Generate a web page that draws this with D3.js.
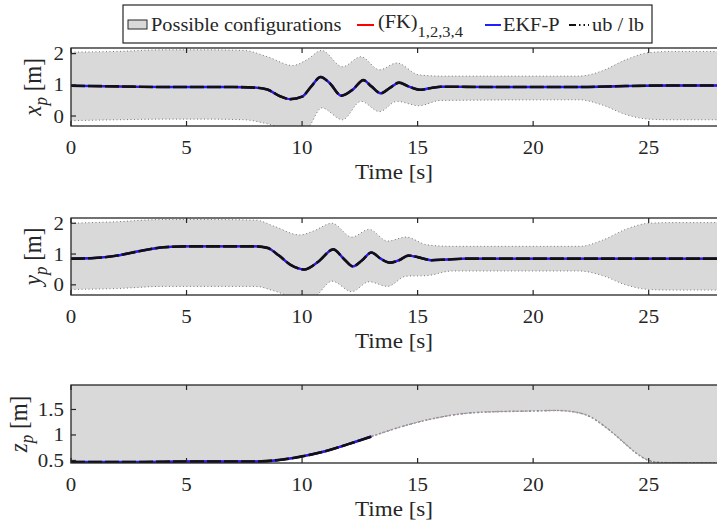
<!DOCTYPE html>
<html lang="en">
<head>
<meta charset="UTF-8">
<title>Position estimates</title>
<script src="https://d3js.org/d3.v7.min.js"></script>
<style>
  body { margin: 0; background: #fff; }
  svg { display: block; font-family: "Liberation Serif", "Times New Roman", serif; }
</style>
</head>
<body>
<div id="chart"></div>
<script>
// ---- data ----
const xTicks = [0, 5, 10, 15, 20, 25];

// x_p
const xpT   = [0, 2, 4, 7, 8, 8.5, 9, 9.5, 10, 10.4, 10.8, 11.2, 11.7, 12.2, 12.65, 13, 13.4, 13.8, 14.2, 14.6, 15.1, 15.6, 16, 18, 22, 24, 26, 28];
const xpMid = [0.97, 0.95, 0.93, 0.93, 0.91, 0.85, 0.65, 0.54, 0.62, 0.95, 1.25, 1.05, 0.65, 0.85, 1.15, 0.95, 0.73, 0.9, 1.07, 0.95, 0.84, 0.9, 0.94, 0.93, 0.93, 0.96, 0.98, 0.98];
const xpBandT = [0, 2, 4, 6, 7.5, 8.5, 9.6, 10.2, 10.85, 11.75, 12.55, 13.35, 14.1, 15.05, 16, 22, 23, 24, 25, 26, 28];
const xpUb    = [2.05, 2.07, 2.12, 2.12, 2.1, 1.9, 1.62, 1.8, 2.1, 1.58, 1.9, 1.48, 1.7, 1.32, 1.28, 1.28, 1.45, 1.8, 2.03, 2.07, 2.07];
const xpLb    = [-0.15, -0.12, -0.1, -0.1, -0.12, -0.25, -0.45, -0.4, 0.26, -0.12, 0.47, 0.14, 0.47, 0.33, 0.5, 0.52, 0.35, 0.05, -0.1, -0.12, -0.12];

// y_p
const ypT   = [0, 1, 2, 3, 4, 5, 8, 8.5, 9, 9.5, 10.1, 10.7, 11.35, 11.8, 12.2, 12.6, 13.0, 13.4, 13.8, 14.2, 14.6, 15.0, 15.6, 16.2, 17, 28];
const ypMid = [0.85, 0.87, 0.95, 1.1, 1.22, 1.25, 1.25, 1.2, 0.95, 0.65, 0.5, 0.75, 1.15, 0.85, 0.6, 0.8, 1.05, 0.85, 0.72, 0.8, 0.95, 0.9, 0.8, 0.82, 0.85, 0.85];
const ypBandT = [0, 2, 4, 6, 8, 8.8, 9.9, 10.5, 11.3, 12.15, 12.9, 13.7, 14.5, 15.4, 16.5, 22, 23, 24, 25, 26, 28];
const ypUb    = [2.0, 2.05, 2.12, 2.12, 2.1, 1.9, 1.62, 1.75, 2.0, 1.55, 1.8, 1.42, 1.55, 1.3, 1.25, 1.25, 1.45, 1.8, 2.0, 2.02, 2.02];
const ypLb    = [-0.15, -0.12, -0.05, -0.05, -0.05, -0.2, -0.45, -0.4, 0.12, -0.22, 0.1, -0.05, 0.28, 0.3, 0.45, 0.45, 0.3, 0.0, -0.15, -0.17, -0.17];

// z_p (trajectory sits on the lower bound, upper bound is off the top)
const zpT   = [0, 3, 5, 8, 9, 10, 11, 12, 13, 14, 15, 16, 17, 18, 20, 21, 21.8, 22.5, 23, 23.5, 24, 24.5, 25, 25.5, 26, 28];
const zpMid = [0.47, 0.47, 0.48, 0.48, 0.51, 0.58, 0.68, 0.82, 0.97, 1.12, 1.25, 1.35, 1.42, 1.45, 1.47, 1.48, 1.45, 1.35, 1.2, 1.02, 0.82, 0.63, 0.5, 0.46, 0.455, 0.455];
const zpUb = 2.6;
const zpSolidUntil = 13.2; // beyond this the estimate is hidden behind the bound

// ---- layout ----
const W = 717, H = 527;
const left = 71, right = 718;
const axisColor = "#262626";
const bandColor = "#d9d9d9";
const stretch = 1.1; // the original figure is a bit wider than tall

const svg = d3.select("#chart").append("svg")
  .attr("width", W).attr("height", H);

// text placed at (tx, ty), stretched sideways like the source
function label(g, tx, ty, size) {
  return g.append("text")
    .attr("transform", `translate(${tx},${ty}) scale(${stretch},1)`)
    .attr("font-size", size).attr("fill", axisColor);
}

const x = d3.scaleLinear().domain([0, 28]).range([left, right]);

const panels = [
  {id: "xp", top: 48, bottom: 126, domain: [-0.32, 2.18], ticks: [0, 1, 2], fmt: d3.format("d"), label: "x", labelX: 41,
   t: xpT, mid: xpMid, bt: xpBandT, ub: xpUb, lb: xpLb},
  {id: "yp", top: 218, bottom: 295, domain: [-0.33, 2.17], ticks: [0, 1, 2], fmt: d3.format("d"), label: "y", labelX: 41,
   t: ypT, mid: ypMid, bt: ypBandT, ub: ypUb, lb: ypLb},
  {id: "zp", top: 385, bottom: 463, domain: [0.45, 1.98], ticks: [0.5, 1, 1.5], fmt: d => d === 1 ? "1" : d3.format(".1f")(d), label: "z", labelX: 27,
   t: zpT, mid: zpMid, bt: zpT, ub: zpT.map(() => zpUb), lb: zpMid}
];

panels.forEach(p => {
  const y = d3.scaleLinear().domain(p.domain).range([p.bottom, p.top]);
  const g = svg.append("g");

  g.append("clipPath").attr("id", "clip-" + p.id)
    .append("rect").attr("x", left).attr("y", p.top)
    .attr("width", right - left).attr("height", p.bottom - p.top);

  const plot = g.append("g").attr("clip-path", `url(#clip-${p.id})`);

  const band = p.bt.map((t, i) => ({t, ub: p.ub[i], lb: p.lb[i]}));
  const mid = p.t.map((t, i) => ({t, v: p.mid[i]}));

  // possible configurations
  plot.append("path").datum(band)
    .attr("d", d3.area().curve(d3.curveMonotoneX)
      .x(d => x(d.t)).y0(d => y(d.lb)).y1(d => y(d.ub)))
    .attr("fill", bandColor);

  // ub / lb
  ["ub", "lb"].forEach(k => {
    plot.append("path").datum(band)
      .attr("d", d3.line().curve(d3.curveMonotoneX).x(d => x(d.t)).y(d => y(d[k])))
      .attr("fill", "none").attr("stroke", "#777")
      .attr("stroke-width", 1).attr("stroke-dasharray", "1,2.5");
  });

  const line = d3.line().curve(d3.curveMonotoneX).x(d => x(d.t)).y(d => y(d.v));
  const solid = p.id === "zp" ? mid.filter(d => d.t <= zpSolidUntil) : mid;

  if (p.id === "zp") {
    plot.append("path").datum(mid).attr("d", line)
      .attr("fill", "none").attr("stroke", "#999").attr("stroke-width", 1.6)
      .attr("stroke-dasharray", "2,2");
    plot.append("path").datum(mid).attr("d", line)
      .attr("fill", "none").attr("stroke", "#cc7777").attr("stroke-width", 1)
      .attr("stroke-dasharray", "1.5,6").attr("opacity", 0.7);
    plot.append("path").datum(mid).attr("d", line)
      .attr("fill", "none").attr("stroke", "#7777cc").attr("stroke-width", 1)
      .attr("stroke-dasharray", "1.5,7").attr("stroke-dashoffset", 3).attr("opacity", 0.7);
  }

  // (FK), EKF-P, and the black dash-dot on top
  plot.append("path").datum(solid).attr("d", line)
    .attr("fill", "none").attr("stroke", "red").attr("stroke-width", 2);
  plot.append("path").datum(solid).attr("d", line)
    .attr("fill", "none").attr("stroke", "#1f1fff").attr("stroke-width", 2.4);
  plot.append("path").datum(solid).attr("d", line)
    .attr("fill", "none").attr("stroke", "#111").attr("stroke-width", 2.6)
    .attr("stroke-dasharray", "14,3");

  // frame
  g.append("rect").attr("x", left).attr("y", p.top)
    .attr("width", right - left).attr("height", p.bottom - p.top)
    .attr("fill", "none").attr("stroke", axisColor).attr("stroke-width", 1.3);

  // x ticks (bottom + top, inward)
  xTicks.forEach(t => {
    g.append("line").attr("x1", x(t)).attr("x2", x(t))
      .attr("y1", p.bottom).attr("y2", p.bottom - 5)
      .attr("stroke", axisColor).attr("stroke-width", 1.2);
    g.append("line").attr("x1", x(t)).attr("x2", x(t))
      .attr("y1", p.top).attr("y2", p.top + 5)
      .attr("stroke", axisColor).attr("stroke-width", 1.2);
    label(g, x(t), p.bottom + 28, 19).attr("text-anchor", "middle").text(t);
  });

  // y ticks
  p.ticks.forEach(v => {
    g.append("line").attr("x1", left).attr("x2", left + 5)
      .attr("y1", y(v)).attr("y2", y(v))
      .attr("stroke", axisColor).attr("stroke-width", 1.2);
    label(g, left - 7, y(v) + 6.5, 19).attr("text-anchor", "end").text(p.fmt(v));
  });

  // axis titles
  label(g, (left + 717) / 2, p.bottom + 53, 21).attr("text-anchor", "middle").text("Time [s]");

  const yl = g.append("text")
    .attr("transform", `translate(${p.labelX},${(p.top + p.bottom) / 2}) rotate(-90) scale(1,${stretch})`)
    .attr("text-anchor", "middle").attr("font-size", 23).attr("fill", axisColor);
  yl.append("tspan").attr("font-style", "italic").text(p.label);
  yl.append("tspan").attr("font-style", "italic").attr("font-size", 17)
    .attr("dy", 5).text("p");
  yl.append("tspan").attr("dy", -5).text(" [m]");
});

// ---- legend ----
const leg = svg.append("g");
leg.append("rect").attr("x", 123).attr("y", 5).attr("width", 529).attr("height", 38)
  .attr("fill", "#fff").attr("stroke", axisColor).attr("stroke-width", 1.2);
const ly = 25;
leg.append("rect").attr("x", 128).attr("y", ly - 5).attr("width", 19).attr("height", 9)
  .attr("fill", bandColor).attr("stroke", axisColor).attr("stroke-width", 1);
label(leg, 151, ly + 6, 18.5).text("Possible configurations");

leg.append("line").attr("x1", 357).attr("x2", 374).attr("y1", ly).attr("y2", ly)
  .attr("stroke", "red").attr("stroke-width", 2);
const fk = label(leg, 378, ly + 3, 18.5);
fk.append("tspan").text("(FK)");
fk.append("tspan").attr("font-size", 15).attr("dy", 9).text("1,2,3,4");

leg.append("line").attr("x1", 485).attr("x2", 501).attr("y1", ly).attr("y2", ly)
  .attr("stroke", "#1f1fff").attr("stroke-width", 2);
label(leg, 503, ly + 6, 18.5).text("EKF-P");

leg.append("line").attr("x1", 569).attr("x2", 589).attr("y1", ly).attr("y2", ly)
  .attr("stroke", "#111").attr("stroke-width", 2).attr("stroke-dasharray", "7,3,1.5,3,1.5,3");
label(leg, 592, ly + 6, 18.5).text("ub / lb");
</script>
</body>
</html>
